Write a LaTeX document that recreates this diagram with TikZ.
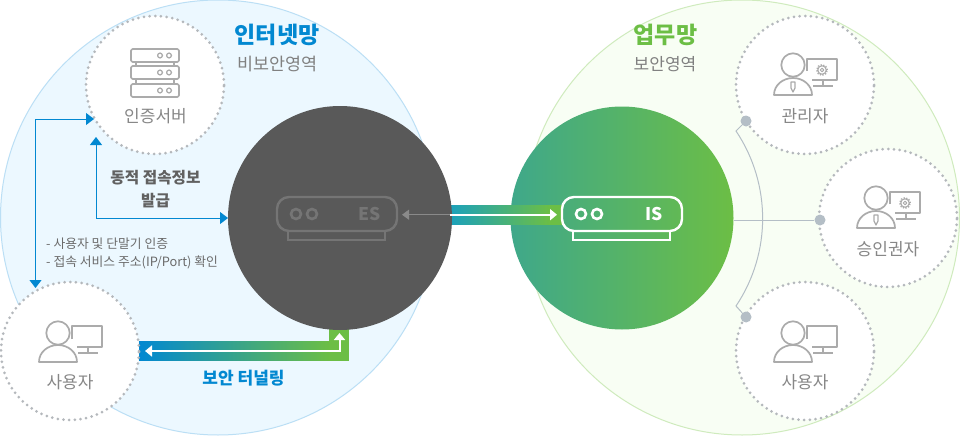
\documentclass[tikz,border=0pt]{standalone}
\usepackage{fontspec}
\usetikzlibrary{arrows.meta}
\setmainfont{Noto Sans CJK KR}
\definecolor{netblue}{HTML}{0288D1}
\definecolor{netgreen}{HTML}{6CBE45}
\definecolor{darkdisc}{HTML}{595959}
\definecolor{iconcol}{HTML}{ABABAB}
\definecolor{dotcol}{HTML}{B4B8BC}
\definecolor{linkcol}{HTML}{B4BEC6}
\definecolor{devcol}{HTML}{757575}
\definecolor{inetfill}{HTML}{ECF8FF}
\definecolor{inetline}{HTML}{BBDFF5}
\definecolor{workfill}{HTML}{F8FEF4}
\definecolor{workline}{HTML}{CFEBBD}
\definecolor{discleft}{HTML}{3FA88A}
\definecolor{bandleft}{HTML}{18A0C0}
\tikzset{
  x=1pt,y=-1pt,
  zone/.style={circle,minimum size=435pt,inner sep=0pt,line width=1pt},
  dotcircle/.style={circle,fill=white,draw=dotcol,minimum size=138pt,inner sep=0pt,line width=3pt,line cap=round,dash pattern=on 0pt off 5.69pt},
  linkdot/.style={circle,fill=linkcol,minimum size=11pt,inner sep=0pt},
  iconline/.style={draw=iconcol,line width=1.7pt,line join=round},
  bluearrow/.style={draw=netblue,line width=1pt,{Triangle[length=8pt,width=12pt]}-{Triangle[length=8pt,width=12pt]}},
  whitearrow/.style={draw=white,line width=2pt,-{Triangle[length=7pt,width=11pt]}},
  lbl/.style={font=\fontsize{17}{19}\selectfont,text=black!47,inner sep=0pt,anchor=center},
  pics/devicebox/.style={code={
    \draw[line width=2.4pt,draw=#1,rounded corners=12pt] (-60,-17) rectangle (60,17);
    \draw[line width=2.2pt,draw=#1] (-49,17) -- (-49,26) -- (48,26) -- (48,17);
    \draw[line width=2.6pt,draw=#1] (-41,0) circle (5pt) (-25,0) circle (5pt);
  }},
  pics/serverrack/.style={code={
    \foreach \yy in {-36,-19,-1}{
      \draw[iconline,rounded corners=1.5pt] (-24,\yy) rectangle (24,\yy+13);
      \draw[iconline,line width=1.3pt] (5,\yy+6.5) circle (2.4pt) (14,\yy+6.5) circle (2.4pt);
    }
    \draw[iconline,line width=1.2pt] (-19,-23)--(-19,-19) (19,-23)--(19,-19) (-19,-6)--(-19,-1) (19,-6)--(19,-1);
  }},
  pics/personpc/.style={code={
    \draw[iconline] (-12,-18) circle (11.7pt);
    \draw[iconline] (-31,11) .. controls (-31,1) and (-22,-6) .. (-12,-6) .. controls (-2,-6) and (7,1) .. (7,11) -- cycle;
    \draw[iconline] (2,-12) -- (2,-25) -- (32,-25) -- (32,-4) -- (7,-4);
    \draw[iconline] (18,-4) -- (18,2) (8,2) -- (28,2);
  }},
  pics/staffpc/.style={code={
    \draw[iconline] (-12,-20) circle (11.7pt);
    \draw[iconline] (-31,10) .. controls (-31,0) and (-22,-7) .. (-12,-7) .. controls (-2,-7) and (7,0) .. (7,10) -- cycle;
    \draw[iconline] (2,-14) -- (2,-26) -- (32,-26) -- (32,-5) -- (7,-5);
    \draw[iconline] (18,-5) -- (18,1) (8,1) -- (28,1);
    \draw[iconline,line width=1.2pt] (-14,-3) -- (-10,-3) -- (-10,3) -- (-12,7) -- (-14,3) -- cycle;
    \draw[iconline,line width=1pt] (17,-15) circle (1.8pt) (17,-15) circle (4.2pt);
    \draw[iconline,line width=1.6pt,dash pattern=on 1.3pt off 1.4pt] (17,-15) circle (5.2pt);
  }}
}
\begin{document}
\begin{tikzpicture}
\useasboundingbox (0,0) rectangle (960,436);
\fill[white] (0,0) rectangle (960,436);
% zones
\node[zone,fill=inetfill,draw=inetline] (inetzone) at (218,217.5) {};
\node[zone,fill=workfill,draw=workline] (workzone) at (742,217.5) {};
% green disc
\node[circle,minimum size=223pt,inner sep=0pt,left color=discleft,right color=netgreen] (isdisc) at (622,218) {};
% band between discs
\fill[netgreen] (549.5,205) rectangle (562,225);
\foreach \i in {0,...,52}{
  \pgfmathsetmacro\mixv{\i/52*100}
  \fill[netgreen!\mixv!bandleft] (445+2*\i,205) rectangle (447.5+2*\i,225);
}
% tunnel band
\fill[netgreen] (329,320) rectangle (349,361);
\foreach \i in {0,...,95}{
  \pgfmathsetmacro\mixv{\i/95*100}
  \fill[netgreen!\mixv!netblue] (139+2*\i,341) rectangle (141.5+2*\i,361);
}
% dark disc
\node[circle,minimum size=224pt,inner sep=0pt,fill=darkdisc] (esdisc) at (340,218) {};
% dotted circles
\node[dotcircle] (auth) at (155,85) {};
\node[dotcircle] (userL) at (70,351) {};
\node[dotcircle] (mgr) at (805,85) {};
\node[dotcircle] (appr) at (888,218) {};
\node[dotcircle] (userR) at (805,351) {};
% link lines
\coordinate (arcTop) at (736,131);
\coordinate (arcBottom) at (736,306);
\node[linkdot] (dotMgr) at (746,121) {};
\node[linkdot] (dotAppr) at (820,220) {};
\node[linkdot] (dotUser) at (746,317) {};
\draw[linkcol,line width=1pt] (isdisc.east |- dotAppr) -- (dotAppr);
\draw[linkcol,line width=1pt] (dotMgr) -- (arcTop) .. controls (771.5,183.9) and (771.5,253.1) .. (arcBottom) -- (dotUser);
% icons
\pic at (155,85) {serverrack};
\pic at (70,351) {personpc};
\pic at (805,351) {personpc};
\pic at (805,85) {staffpc};
\pic at (888,218) {staffpc};
\pic at (337,214) {devicebox=devcol};
\pic at (622,214) {devicebox=white};
\node[font=\fontsize{17.5}{17.5}\selectfont\bfseries,text=devcol,inner sep=0pt] (esLabel) at (370,214) {ES};
\node[font=\fontsize{17.5}{17.5}\selectfont\bfseries,text=white,inner sep=0pt] (isLabel) at (654,214) {IS};
% arrows
\coordinate (authIn) at (94,119);
\coordinate (authBelow) at (96,137);
\coordinate (userTop) at (35.5,288);
\coordinate (corner1) at (35.5,119);
\coordinate (corner2) at (96,218);
\coordinate (esWest) at (228,218);
\draw[bluearrow] (authIn) -- (corner1) -- (userTop);
\draw[bluearrow] (authBelow) -- (corner2) -- (esWest);
\coordinate (tunA) at (145,351);
\coordinate (tunB) at (339.5,351);
\coordinate (tunC) at (339.5,333);
\draw[whitearrow,{Triangle[length=7pt,width=11pt]}-{Triangle[length=7pt,width=11pt]}] (tunA) -- (tunB) -- (tunC);
\coordinate (linkMid) at (450,214.7);
\coordinate (esTip) at (402,214.7);
\coordinate (isTip) at (557,214.7);
\draw[draw=devcol!85!white,line width=1pt,-{Triangle[length=7pt,width=10pt]}] (linkMid) -- (esTip);
\draw[whitearrow] (linkMid) -- (isTip);
% labels
\node[font=\fontsize{23}{25}\selectfont\bfseries,text=netblue,inner sep=0pt] (t1) at (277,35) {인터넷망};
\node[font=\fontsize{17.4}{19}\selectfont,text=black!50,inner sep=0pt] (t2) at (277.5,64) {비보안영역};
\node[font=\fontsize{23}{25}\selectfont\bfseries,text=netgreen,inner sep=0pt] (t3) at (665.5,35) {업무망};
\node[font=\fontsize{17}{19}\selectfont,text=black!50,inner sep=0pt] (t4) at (665,64) {보안영역};
\node[lbl] (t5) at (155.5,116) {인증서버};
\node[lbl] (t6) at (70,382) {사용자};
\node[lbl] (t7) at (805,116) {관리자};
\node[lbl] (t8) at (888,249) {승인권자};
\node[lbl] (t9) at (805,382) {사용자};
\node[font=\fontsize{15.7}{17}\selectfont\bfseries,text=black!62,inner sep=0pt] (t10) at (155.5,178) {동적 접속정보};
\node[font=\fontsize{15.7}{17}\selectfont\bfseries,text=black!62,inner sep=0pt] (t11) at (155.5,201) {발급};
\node[font=\fontsize{12.8}{14}\selectfont,text=black!58,inner sep=0pt,anchor=west] (t12) at (46,244) {- 사용자 및 단말기 인증};
\node[font=\fontsize{12.8}{14}\selectfont,text=black!58,inner sep=0pt,anchor=west] (t13) at (46,262) {- 접속 서비스 주소(IP/Port) 확인};
\node[font=\fontsize{17}{18}\selectfont\bfseries,text=netblue,inner sep=0pt] (t14) at (243.5,378) {보안 터널링};
\end{tikzpicture}
\end{document}
